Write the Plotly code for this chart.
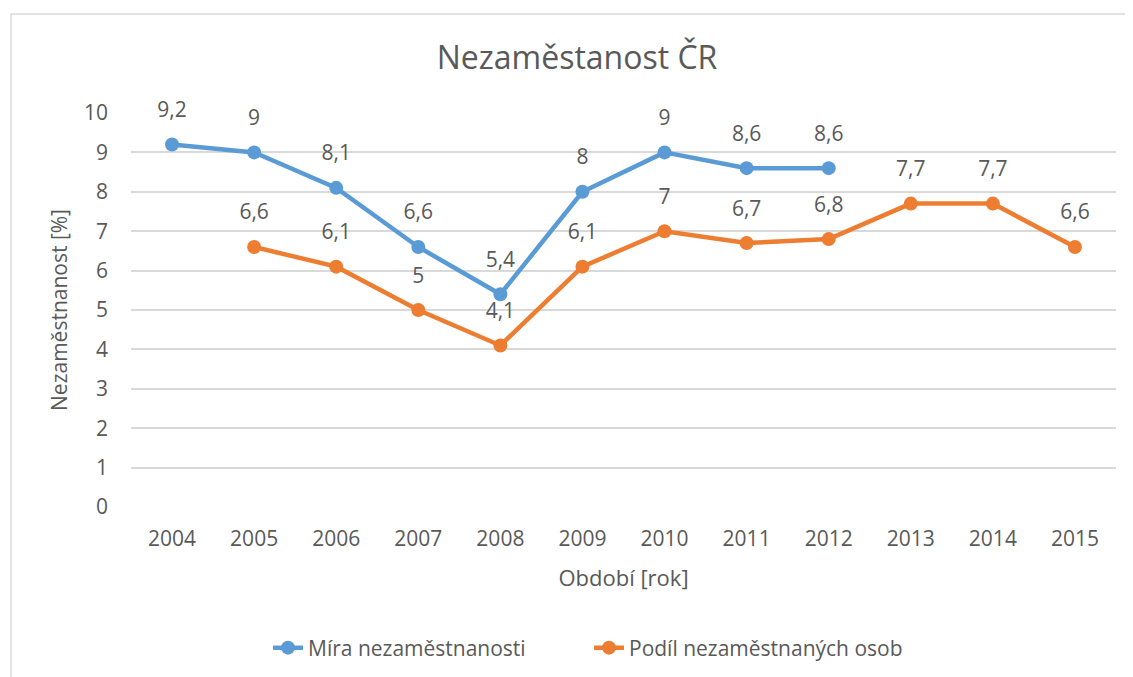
import plotly.graph_objects as go

years = ["2004", "2005", "2006", "2007", "2008", "2009", "2010", "2011", "2012", "2013", "2014", "2015"]
mira = [9.2, 9, 8.1, 6.6, 5.4, 8, 9, 8.6, 8.6, None, None, None]
podil = [None, 6.6, 6.1, 5, 4.1, 6.1, 7, 6.7, 6.8, 7.7, 7.7, 6.6]
series_names = ["Míra nezaměstnanosti", "Podíl nezaměstnaných osob"]
colors = ["#5B9BD5", "#ED7D31"]

def fmt(v):
    return "" if v is None else f"{v:g}".replace(".", ",")

FONT = "Open Sans"
TXT = "#595959"
OFF = 8  # page body margin

fig = go.Figure()
for name, vals, col in zip(series_names, [mira, podil], colors):
    fig.add_trace(go.Scatter(
        x=years, y=vals, name=name, mode="lines+markers",
        line=dict(color=col, width=4.5),
        marker=dict(color=col, size=14),
        cliponaxis=False, connectgaps=False,
    ))
for name, vals in zip(series_names, [mira, podil]):
    fig.add_trace(go.Scatter(
        x=years, y=vals, mode="markers+text", showlegend=False, hoverinfo="skip",
        text=[fmt(v) for v in vals], textposition="top center",
        textfont=dict(family=FONT, size=21, color=TXT),
        marker=dict(size=34, opacity=0, color="white"),
        cliponaxis=False,
    ))

W, H = 1133, 677
L, R, T, B = 131 - OFF, 1116 - OFF, 113 - OFF, 507 - OFF
pw, ph = R - L, B - T

fig.update_layout(
    width=W, height=H,
    margin=dict(l=L, r=W - R, t=T, b=H - B, autoexpand=False),
    paper_bgcolor="white", plot_bgcolor="white",
    font=dict(family=FONT, color=TXT, size=21),
    title=dict(text="Nezaměstanost ČR", x=(577 - OFF) / W, xanchor="center",
               y=1 - (58 - OFF) / H, yanchor="middle", font=dict(size=32, color=TXT, family=FONT)),
    showlegend=True,
    legend=dict(orientation="h", x=(268 - OFF - L) / pw, xanchor="left",
                y=(B - (648 - OFF)) / ph, yanchor="middle", font=dict(size=21, color=TXT),
                entrywidth=276, entrywidthmode="pixels", traceorder="normal"),
    xaxis=dict(type="category", range=[-0.5, 11.5], showgrid=False, showline=False,
               zeroline=False, ticks="", tickfont=dict(size=21, color=TXT),
               ticklabelstandoff=17,
               title=dict(text="Období [rok]", font=dict(size=22, color=TXT), standoff=19)),
    yaxis=dict(range=[0, 10], dtick=1, showgrid=True, gridcolor="#D9D9D9", gridwidth=1.5,
               zeroline=False, showline=False, ticks="", tickfont=dict(size=21, color=TXT),
               ticklabelstandoff=22,
               title=dict(text="Nezaměstnanost [%]", font=dict(size=21, color=TXT), standoff=10)),
    shapes=[dict(type="rect", xref="paper", yref="paper",
                 x0=(11 - OFF - L) / pw, x1=(1145 - L) / pw,
                 y0=(B - 700) / ph, y1=(B - (14 - OFF)) / ph,
                 line=dict(color="#D9D9D9", width=1.5), fillcolor="rgba(0,0,0,0)", layer="below")],
)

fig.write_html("out.html")
